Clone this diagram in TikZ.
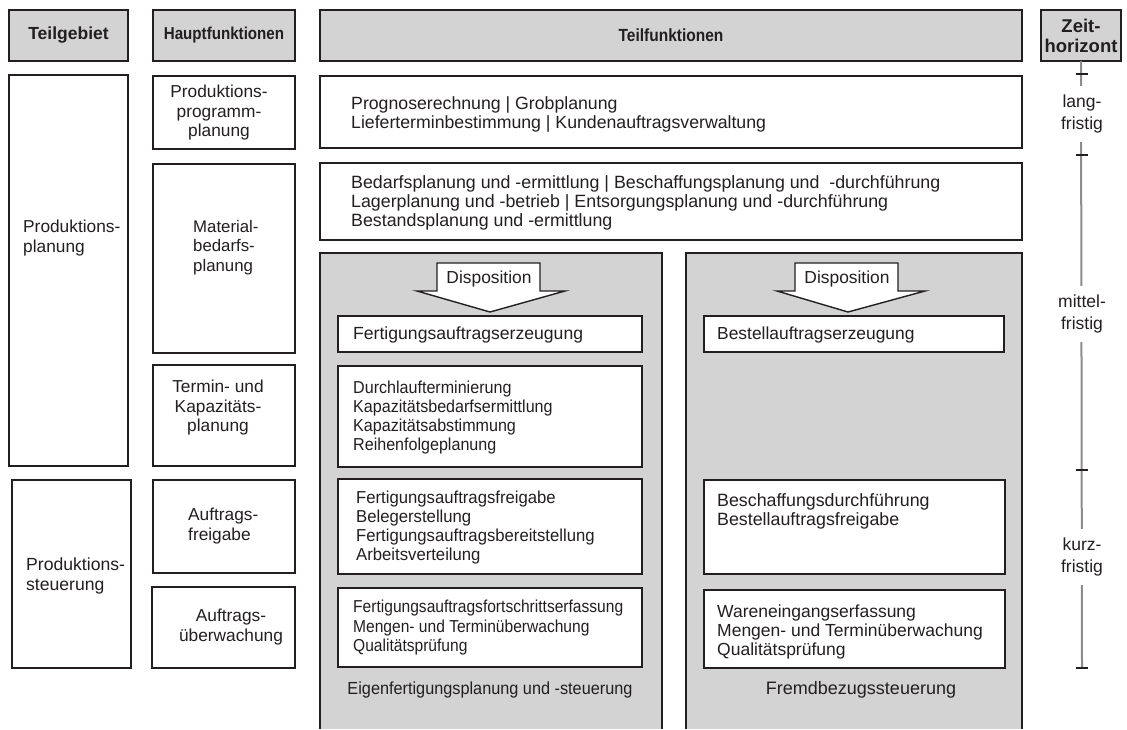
\documentclass[tikz,border=0pt]{standalone}
\usepackage{fontspec}
\setmainfont{Liberation Sans}
% horizontally condensed cuts for the tighter text blocks
\newfontfamily\condA[FakeStretch=0.965]{Liberation Sans}
\newfontfamily\condB[FakeStretch=0.93]{Liberation Sans}
\newfontfamily\condC[FakeStretch=0.90]{Liberation Sans}
\newfontfamily\condH[FakeStretch=0.88]{Liberation Sans}
\usetikzlibrary{fit}
\definecolor{panelgray}{RGB}{211,211,211}
\definecolor{ink}{RGB}{35,31,32}
\definecolor{axisgray}{RGB}{140,140,140}

\begin{document}
\begin{tikzpicture}[x=1pt,y=-1pt,
  frame/.style={draw=ink, line width=1.8pt, inner sep=0pt, outer sep=0pt},
  whitebox/.style={frame, fill=white},
  hdrbox/.style={frame, fill=panelgray},
  panelfill/.style={fill=panelgray, inner sep=0pt, outer sep=0pt},
  panelline/.style={draw=ink, line width=1.8pt},
  hdrtext/.style={font=\bfseries\fontsize{#1}{20}\selectfont, text=ink, align=center, inner sep=0pt},
  hdrtext/.default=15.5,
  body/.style={font=\fontsize{#1}{19}\selectfont, text=ink, align=left, inner sep=0pt, anchor=north west},
  body/.default=17.5,
  ctext/.style={font=\fontsize{#1}{19.5}\selectfont, text=ink, align=center, inner sep=0pt},
  ctext/.default=17.3,
  ltext/.style={font=\fontsize{#1}{19.5}\selectfont, text=ink, align=left, inner sep=0pt, anchor=north west},
  ltext/.default=17.3,
  timetext/.style={font=\fontsize{17.5}{22}\selectfont, text=ink, align=center, fill=white, inner xsep=2pt, inner ysep=9pt},
  dispo/.style={draw=ink, line width=1.4pt, fill=white, line join=miter},
  axis/.style={draw=axisgray, line width=2pt},
  tick/.style={draw=ink, line width=1.2pt}
]
\useasboundingbox (0,0) rectangle (1127,729);
\fill[white] (0,0) rectangle (1127,729);

% ---- header row ----
\node[hdrbox, fit={(9,10) (128,61)}] (hTeilgebiet) {};
\node[hdrtext=17.5] (tTeilgebiet) at (hTeilgebiet.center) {Teilgebiet};
\node[hdrbox, fit={(153,10) (295,61)}] (hHaupt) {};
\node[hdrtext, font=\condH\bfseries\fontsize{17.2}{20}\selectfont] (tHaupt) at (hHaupt.center) {Hauptfunktionen};
\node[hdrbox, fit={(320,10) (1022,61)}] (hTeilf) {};
\node[hdrtext, font=\condH\bfseries\fontsize{17.6}{20}\selectfont] (tTeilf) at (hTeilf.center) {Teilfunktionen};
\node[hdrbox, fit={(1041,10) (1121,61)}] (hZeit) {};
\node[hdrtext=18.5] (tZeit) at (1081,36) {Zeit-\\horizont};

% ---- Teilgebiet column ----
\node[whitebox, fit={(9,75) (128,466)}] (gPlan) {};
\node[ltext] (tgPlan) at (23,220) {Produktions-\\planung};
\node[whitebox, fit={(12,480) (131,668)}] (gSteu) {};
\node[ltext=17.6] (tgSteu) at (26,558) {Produktions-\\steuerung};

% ---- Hauptfunktionen column ----
\node[whitebox, fit={(153,76) (295,149)}] (fProg) {};
\node[ctext] (tfProg) at (219,113) {Produktions-\\programm-\\planung};
\node[whitebox, fit={(153,164) (295,353)}] (fMat) {};
\node[ltext=16.8] (tfMat) at (193,220) {Material-\\bedarfs-\\planung};
\node[whitebox, fit={(153,365) (295,466)}] (fTerm) {};
\node[ctext] (tfTerm) at (218,408) {Termin- und\\Kapazitäts-\\planung};
\node[whitebox, fit={(153,480) (295,573)}] (fFrei) {};
\node[ltext] (tfFrei) at (188,508) {Auftrags-\\freigabe};
\node[whitebox, fit={(152,587) (295,668)}] (fUeb) {};
\node[ctext] (tfUeb) at (231,627) {Auftrags-\\überwachung};

% ---- Teilfunktionen: long-range rows ----
\node[whitebox, fit={(320,76) (1022,148)}] (pProg) {};
\node[body=17.7] (tpProg) at (351,96) {Prognoserechnung | Grobplanung\\Lieferterminbestimmung | Kundenauftragsverwaltung};
\node[whitebox, fit={(320,163) (1022,240)}] (pBed) {};
\node[body=17.8] (tpBed) at (351,175) {Bedarfsplanung und -ermittlung | Beschaffungsplanung und\ \ -durchführung\\Lagerplanung und -betrieb | Entsorgungsplanung und -durchführung\\Bestandsplanung und -ermittlung};

% ---- left panel: Eigenfertigung ----
\node[panelfill, fit={(320,253) (662,729)}] (panelL) {};
\draw[panelline] (panelL.south west) -- (panelL.north west) -- (panelL.north east) -- (panelL.south east);
\draw[dispo] (437,263) -- (540,263) -- (540,291) -- (565,291) -- (490,312) -- (417,291) -- (437,291) -- cycle;
\node[ctext=17.4] (dispoL) at (489,279) {Disposition};
\node[whitebox, fit={(338,316) (642,352)}] (eErz) {};
\node[body=17.6] (teErz) at (353,327) {Fertigungsauftragserzeugung};
\node[whitebox, fit={(338,366) (642,467)}] (eTerm) {};
\node[body, font=\condB\fontsize{17.3}{19}\selectfont] (teTerm) at (353,381) {Durchlaufterminierung\\Kapazitätsbedarfsermittlung\\Kapazitätsabstimmung\\Reihenfolgeplanung};
\node[whitebox, fit={(338,479) (642,574)}] (eFrei) {};
\node[body, font=\condA\fontsize{17.3}{19}\selectfont] (teFrei) at (356,491) {Fertigungsauftragsfreigabe\\Belegerstellung\\Fertigungsauftragsbereitstellung\\Arbeitsverteilung};
\node[whitebox, fit={(338,588) (642,667)}] (eUeb) {};
\node[body, font=\condC\fontsize{17.3}{19.5}\selectfont] (teUeb) at (353,600) {Fertigungsauftragsfortschrittserfassung\\Mengen- und Terminüberwachung\\Qualitätsprüfung};
\node[ctext, font=\condB\fontsize{17.5}{19}\selectfont] (lblL) at (490,690) {Eigenfertigungsplanung und -steuerung};

% ---- right panel: Fremdbezug ----
\node[panelfill, fit={(686,253) (1022,729)}] (panelR) {};
\draw[panelline] (panelR.south west) -- (panelR.north west) -- (panelR.north east) -- (panelR.south east);
\draw[dispo] (795,263) -- (898,263) -- (898,291) -- (925,291) -- (848,312) -- (777,291) -- (795,291) -- cycle;
\node[ctext=17.4] (dispoR) at (847,279) {Disposition};
\node[whitebox, fit={(704,316) (1004,352)}] (bErz) {};
\node[body=17.4] (tbErz) at (717,327) {Bestellauftragserzeugung};
\node[whitebox, fit={(704,480) (1005,574)}] (bFrei) {};
\node[body=17.8] (tbFrei) at (717,493) {Beschaffungsdurchführung\\Bestellauftragsfreigabe};
\node[whitebox, fit={(704,590) (1005,668)}] (bUeb) {};
\node[body=17.5] (tbUeb) at (717,605) {Wareneingangserfassung\\Mengen- und Terminüberwachung\\Qualitätsprüfung};
\node[ctext=18] (lblR) at (861,690) {Fremdbezugssteuerung};

% ---- time axis ----
\coordinate (axisEnd) at (1082,668);
\draw[axis] (hZeit.south) -- (axisEnd);
\foreach \ty in {74,155,470,668}
  \draw[tick] (1076,\ty) -- (1088,\ty);
\node[timetext] (zLang) at (1082,114) {lang-\\fristig};
\node[timetext] (zMittel) at (1082,314) {mittel-\\fristig};
\node[timetext] (zKurz) at (1082,557) {kurz-\\fristig};
\end{tikzpicture}
\end{document}
